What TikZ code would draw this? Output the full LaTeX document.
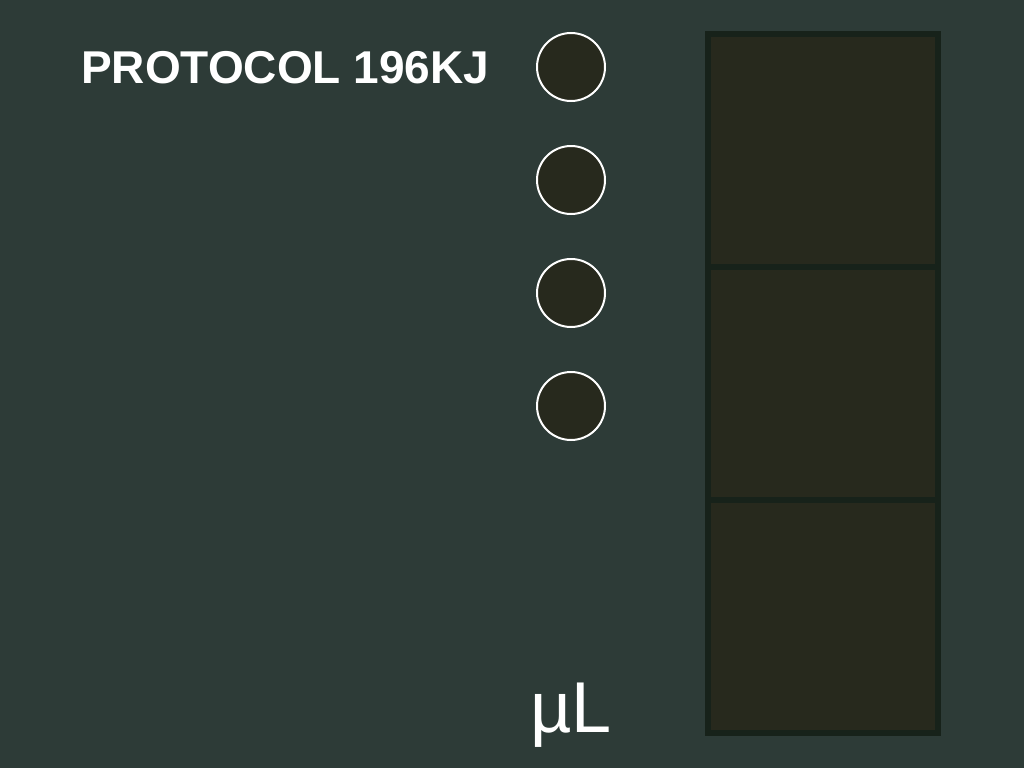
\documentclass[tikz,border=0pt]{standalone}
\usepackage{fontspec}
\setmainfont{Liberation Sans}
\definecolor{fond}{HTML}{2D3B37}
\definecolor{cuve}{HTML}{27291D}
\definecolor{cuvebord}{HTML}{17221A}
\usetikzlibrary{positioning}

\begin{document}
\begin{tikzpicture}[x=1pt,y=-1pt,
  voyant/.style={circle,draw=white,line width=2pt,fill=cuve,minimum size=68pt,inner sep=0pt},
  cellule/.style={rectangle,draw=cuvebord,line width=6pt,fill=cuve,minimum width=230pt,minimum height=233pt,inner sep=0pt}
]
% ---- fond ----
\fill[fond] (0,0) rectangle (1024,768);
% ---- titre ----
\node[anchor=base west,inner sep=0pt,text=white,font=\bfseries\fontsize{46}{50}\selectfont] (titre) at (81,83) {PROTOCOL 196KJ};
% ---- voyants ----
\foreach \y/\nom in {67/v1, 180/v2, 293/v3, 406/v4}{
  \node[voyant] (\nom) at (571,\y) {};
}
% ---- cuve ----
\foreach \y/\nom in {150.5/c1, 383.5/c2, 616.5/c3}{
  \node[cellule] (\nom) at (823,\y) {};
}
% ---- unite ----
\node[anchor=base,inner sep=0pt,text=white,font=\fontsize{72}{76}\selectfont] (unite) at (571,732) {µL};
\end{tikzpicture}
\end{document}
